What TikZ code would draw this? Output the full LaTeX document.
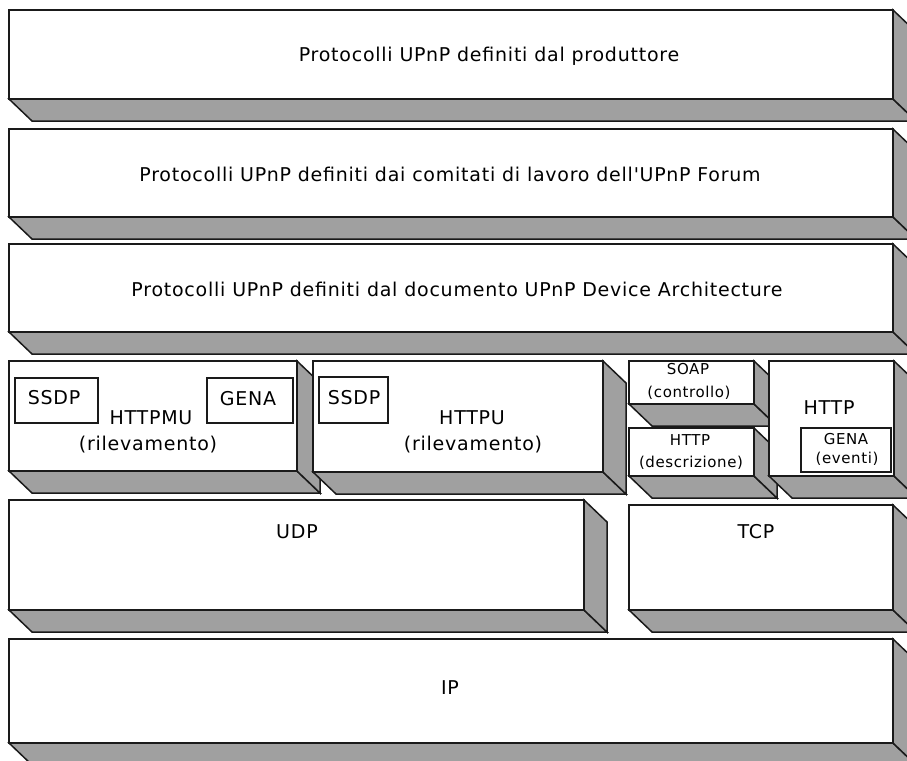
\documentclass[tikz,border=0pt]{standalone}
\usepackage{fontspec}
\setmainfont{DejaVu Sans}
\newfontfamily\labelfont[LetterSpace=4]{DejaVu Sans}
\definecolor{shadegray}{HTML}{A0A0A0}
\definecolor{edge}{HTML}{1A1A1A}

\tikzset{
  face/.style={fill=shadegray, draw=edge, line width=1.5pt, line join=miter},
  front/.style={fill=white, draw=edge, line width=1.6pt, inner sep=0pt,
                outer sep=0pt, anchor=north west},
  subbox/.style={fill=white, draw=edge, line width=1.1pt, inner sep=0pt,
                 outer sep=0pt, anchor=north west},
  biglabel/.style={font=\labelfont\fontsize{19}{22}\selectfont, inner sep=0pt},
  smalllabel/.style={font=\labelfont\fontsize{15}{18}\selectfont, inner sep=0pt},
}

% Layer slab: front face plus bottom and right faces going down-right.
% #1 name, #2 left, #3 top, #4 right, #5 bottom (pixel-like units, y downwards)
\newcommand\layerslab[5]{%
  \draw[face] (#2,#5) -- (#4,#5) -- (#4+23,#5+22) -- (#2+23,#5+22) -- cycle;
  \draw[face] (#4,#3) -- (#4+23,#3+22) -- (#4+23,#5+22) -- (#4,#5) -- cycle;
  \node[front, minimum width=#4pt-#2pt, minimum height=#5pt-#3pt] (#1) at (#2,#3) {};
}
% Plain inner box: #1 name, #2 left, #3 top, #4 right, #5 bottom
\newcommand\innerbox[5]{%
  \node[subbox, minimum width=#4pt-#2pt, minimum height=#5pt-#3pt] (#1) at (#2,#3) {};
}

\begin{document}
\begin{tikzpicture}[x=1pt, y=-1pt]
  \useasboundingbox (0,0) rectangle (907,760);
  \clip (0,0) rectangle (907,760);

  % application layers
  \layerslab{vendor}{9}{10}{893}{99}
  \node[biglabel, anchor=base] (vendortxt) at (489,62) {Protocolli UPnP definiti dal produttore};

  \layerslab{forum}{9}{129}{893}{217}
  \node[biglabel, anchor=base] (forumtxt) at (450,181) {Protocolli UPnP definiti dai comitati di lavoro dell'UPnP Forum};

  \layerslab{uda}{9}{244}{893}{332}
  \node[biglabel, anchor=base] (udatxt) at (457,296) {Protocolli UPnP definiti dal documento UPnP Device Architecture};

  % HTTPMU
  \layerslab{httpmu}{9}{361}{297}{471}
  \innerbox{ssdpa}{15}{378}{98}{423}
  \node[biglabel] (ssdpatxt) at (54,398) {SSDP};
  \innerbox{genaa}{207}{378}{293}{423}
  \node[biglabel] (genaatxt) at (248,399) {GENA};
  \node[biglabel] (httpmutxt) at (151,418) {HTTPMU};
  \node[biglabel] (httpmusub) at (148,445) {(rilevamento)};

  % HTTPU
  \layerslab{httpu}{313}{361}{603}{472}
  \innerbox{ssdpb}{319}{377}{388}{423}
  \node[biglabel] (ssdpbtxt) at (354,398) {SSDP};
  \node[biglabel] (httputxt) at (472,418) {HTTPU};
  \node[biglabel] (httpusub) at (473,445) {(rilevamento)};

  % SOAP and HTTP description
  \layerslab{soap}{629}{361}{754}{404}
  \node[smalllabel] (soaptxt) at (688,369) {SOAP};
  \node[smalllabel] (soapsub) at (689,393) {(controllo)};

  \layerslab{httpd}{629}{428}{754}{476}
  \node[smalllabel] (httpdtxt) at (690,440) {HTTP};
  \node[smalllabel] (httpdsub) at (691,463) {(descrizione)};

  % HTTP with GENA events
  \layerslab{http}{769}{361}{894}{476}
  \node[biglabel] (httptxt) at (829,408) {HTTP};
  \innerbox{genab}{801}{428}{891}{472}
  \node[smalllabel] (genabtxt) at (846,439) {GENA};
  \node[smalllabel] (genabsub) at (847,459) {(eventi)};

  % transport
  \layerslab{udp}{9}{500}{584}{610}
  \node[biglabel] (udptxt) at (297,532) {UDP};
  \layerslab{tcp}{629}{505}{893}{610}
  \node[biglabel] (tcptxt) at (756,532) {TCP};

  % network
  \layerslab{ip}{9}{639}{893}{743}
  \node[biglabel] (iptxt) at (450,688) {IP};
\end{tikzpicture}
\end{document}
